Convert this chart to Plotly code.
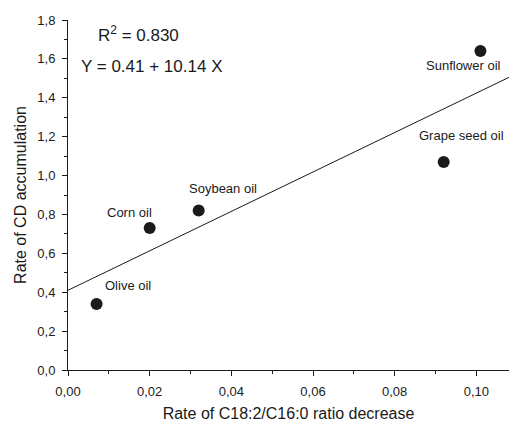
import plotly.graph_objects as go

# Oil samples: rate of C18:2/C16:0 ratio decrease vs rate of CD accumulation
oils = ["Olive oil", "Corn oil", "Soybean oil", "Grape seed oil", "Sunflower oil"]
ratio_decrease = [0.007, 0.020, 0.032, 0.092, 0.101]
cd_accumulation = [0.34, 0.73, 0.82, 1.07, 1.64]

# Linear fit reported on the chart
intercept = 0.41
slope = 10.14
r_squared = 0.830
fit_x = [0.0, 0.108]
fit_y = [intercept + slope * x for x in fit_x]

# Label offsets (pixels) relative to each point
label_shift_x = [31, -20, 24, 18, -17]
label_shift_y = [18, 16, 22, 26, -14]

font_family = "Liberation Sans, Arial, sans-serif"
ink = "#1a1a1a"

# plot area in pixels
plot_left, plot_top, plot_w, plot_h = 68, 20, 441, 350


def px_to_paper(px, py):
    return (px - plot_left) / plot_w, 1 - (py - plot_top) / plot_h


fig = go.Figure()

fig.add_trace(go.Scatter(
    x=fit_x, y=fit_y, mode="lines",
    line=dict(color=ink, width=1),
    hoverinfo="skip", showlegend=False,
))

fig.add_trace(go.Scatter(
    x=ratio_decrease, y=cd_accumulation, mode="markers",
    marker=dict(color=ink, size=12),
    text=oils, showlegend=False,
))

for name, x, y, dx, dy in zip(oils, ratio_decrease, cd_accumulation,
                             label_shift_x, label_shift_y):
    fig.add_annotation(
        x=x, y=y, xref="x", yref="y", text=name, showarrow=False,
        xshift=dx, yshift=dy,
        font=dict(family=font_family, size=13, color=ink),
    )

r2_x, r2_y = px_to_paper(96, 34)
fig.add_annotation(
    x=r2_x, y=r2_y, xref="paper", yref="paper",
    text=f"R<sup>2</sup> = {r_squared:.3f}",
    showarrow=False, xanchor="left", yanchor="middle",
    font=dict(family=font_family, size=17, color=ink),
)
eq_x, eq_y = px_to_paper(79, 66)
fig.add_annotation(
    x=eq_x, y=eq_y, xref="paper", yref="paper",
    text=f"Y = {intercept:.2f} + {slope:.2f} X",
    showarrow=False, xanchor="left", yanchor="middle",
    font=dict(family=font_family, size=17, color=ink),
)

axis_common = dict(
    showline=True, linecolor=ink, linewidth=1, mirror=False,
    ticks="outside", ticklen=5, tickwidth=1, tickcolor=ink,
    showgrid=False, zeroline=False, ticklabelstandoff=4,
    tickfont=dict(family=font_family, size=13, color=ink),
)

fig.update_xaxes(
    range=[0, 0.108], dtick=0.02, tick0=0, tickformat=".2f",
    minor=dict(ticks="outside", ticklen=3, dtick=0.01, tickcolor=ink, showgrid=False),
    title=dict(text="Rate of C18:2/C16:0 ratio decrease", standoff=10,
               font=dict(family=font_family, size=16, color=ink)),
    **axis_common,
)
fig.update_yaxes(
    range=[0, 1.8], dtick=0.2, tick0=0, tickformat=".1f",
    minor=dict(ticks="outside", ticklen=3, dtick=0.1, tickcolor=ink, showgrid=False),
    title=dict(text="Rate of CD accumulation", standoff=6,
               font=dict(family=font_family, size=16, color=ink)),
    **axis_common,
)

fig.update_layout(
    width=509, height=423,
    margin=dict(l=68, r=0, t=20, b=53, autoexpand=False),
    paper_bgcolor="white", plot_bgcolor="white",
    separators=",.",
    font=dict(family=font_family, color=ink),
)

fig.write_html("out.html")
